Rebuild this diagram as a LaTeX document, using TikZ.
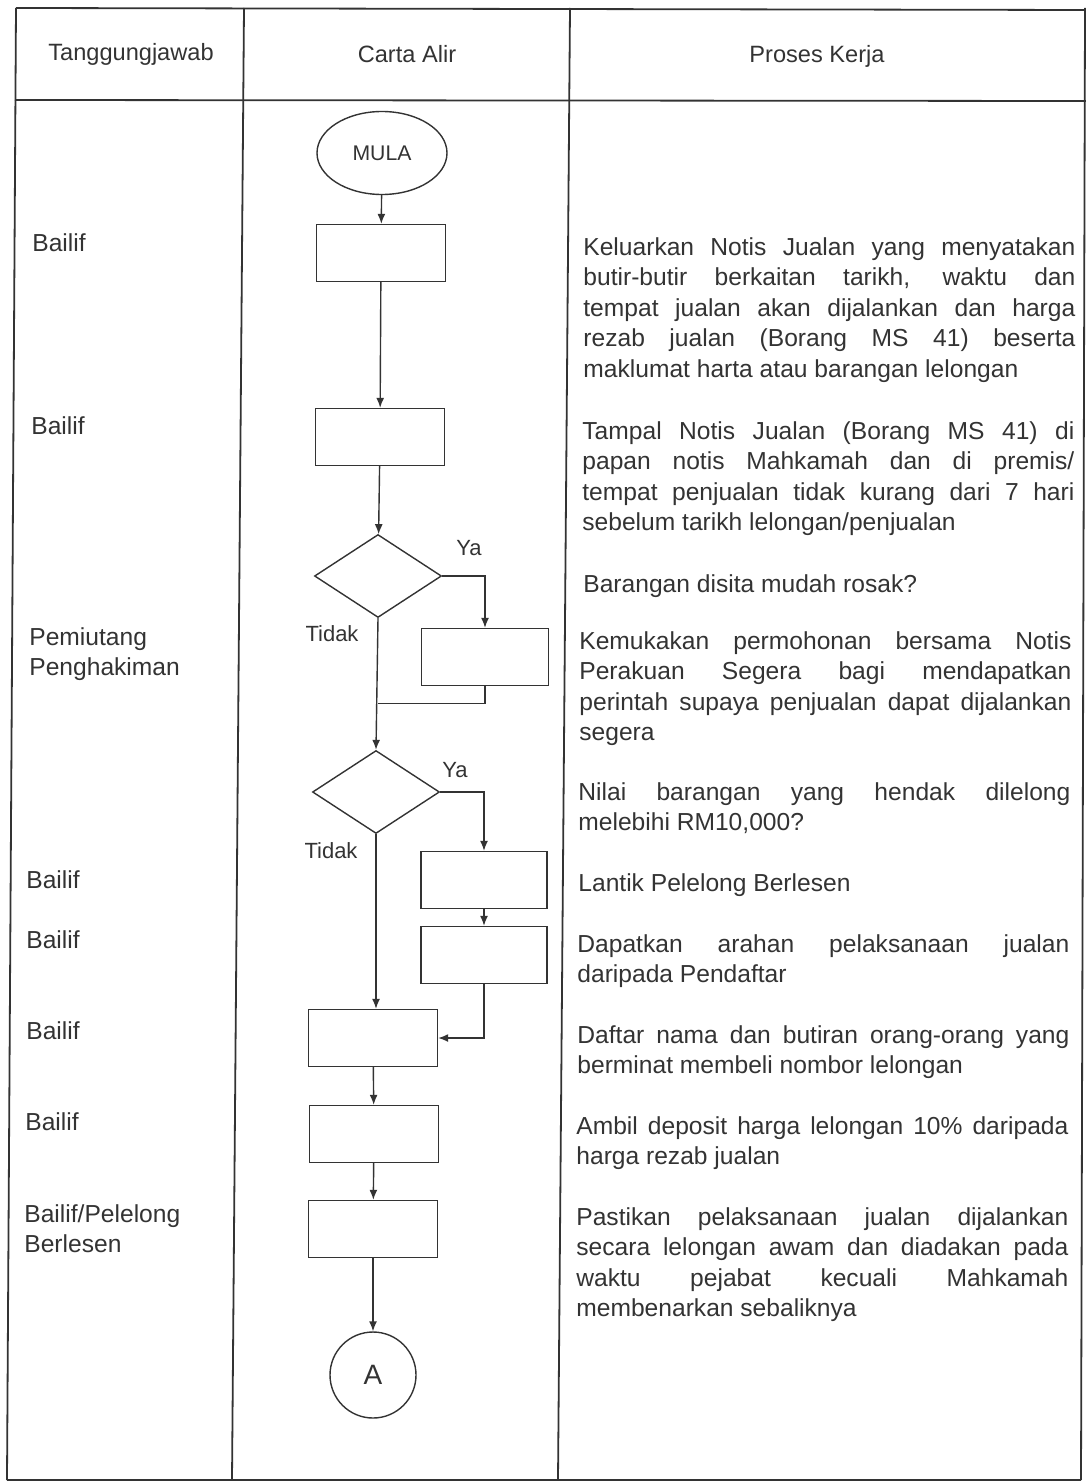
\documentclass[tikz,border=0pt]{standalone}
\usepackage{fontspec}
\setmainfont{Liberation Sans}
\usepackage{tikz}
\usetikzlibrary{shapes.geometric}
\usetikzlibrary{positioning}
\usetikzlibrary{arrows.meta}
\definecolor{tinte}{gray}{0.2}

\tikzset{
  kasten/.style={draw=tinte, line width=0.7pt, rectangle, minimum width=64.5pt, minimum height=28.5pt, inner sep=0pt},
  raute/.style={draw=tinte, line width=0.7pt, diamond, minimum width=63.5pt, minimum height=41.5pt, inner sep=0pt},
  anfang/.style={draw=tinte, line width=0.7pt, ellipse, minimum width=65pt, minimum height=41.5pt, inner sep=0pt, font=\fontsize{10.6}{12}\selectfont, text=tinte},
  verbinder/.style={draw=tinte, line width=0.7pt, circle, minimum size=43pt, inner sep=0pt, font=\fontsize{14}{16}\selectfont, text=tinte},
  pfeil/.style={->, draw=tinte, line width=0.7pt},
  linie/.style={draw=tinte, line width=0.7pt},
  tabelle/.style={draw=tinte, line width=0.9pt},
  zweig/.style={font=\fontsize{11}{13}\selectfont, text=tinte},
  kopf/.style={font=\fontsize{11.8}{14}\selectfont, text=tinte},
  wer/.style={anchor=north west, inner sep=0pt, align=left, font=\fontsize{12.3}{15.25}\selectfont, text=tinte},
  proz/.style={anchor=north west, inner sep=0pt, text width=246pt, align=justify, font=\fontsize{12.3}{15.25}\selectfont, text=tinte}
}

\begin{document}
\begin{tikzpicture}[x=0.5pt, y=-0.5pt, >={Latex[length=5pt,width=4pt]}]
\useasboundingbox (0,0) rectangle (1086,1482);

% Tabellenrahmen
\draw[tabelle] (16,8) -- (1086,10);
\draw[tabelle] (15,100) -- (1086,101);
\draw[tabelle] (7,1480) -- (1081,1480);
\foreach \xo/\xu in {16/7,244/232,570/558,1085/1081}
\draw[tabelle] (\xo,8) -- (\xu,1480);

% Kopfzeile
\node[kopf] (h1) at (131,54) {Tanggungjawab};
\node[kopf] (h2) at (407,54) {Carta Alir};
\node[kopf] (h3) at (817,56) {Proses Kerja};

% Carta Alir
\node[anfang] (mula) at (382,153) {MULA};
\node[kasten] (k1) at (381,253) {};
\node[kasten] (k2) at (380,437) {};
\node[raute] (r1) at (378,576) {};
\node[kasten, minimum width=63.5pt] (k3) at (485,657) {};
\node[raute] (r2) at (376,792) {};
\node[kasten, minimum width=63pt] (k4) at (484,880) {};
\node[kasten, minimum width=63pt] (k5) at (484,955) {};
\node[kasten] (k6) at (373,1038) {};
\node[kasten] (k7) at (374,1134) {};
\node[kasten] (k8) at (373,1229) {};
\node[verbinder] (ka) at (373,1375) {A};

% Ya / Tidak
\node[zweig] (ya1) at (469,548) {Ya};
\node[zweig] (tidak1) at (332,634) {Tidak};
\node[zweig] (ya2) at (455,770) {Ya};
\node[zweig] (tidak2) at (331,851) {Tidak};

% Pfeile
\draw[pfeil] (mula) -- (k1);
\draw[pfeil] (k1) -- (k2);
\draw[pfeil] (k2) -- (r1);
\draw[pfeil] (r1.east) -| (k3.north);
\coordinate (j1) at ([yshift=-8.5pt]r1.south |- k3.south);
\draw[linie] (k3.south) |- (j1);
\draw[pfeil] (r1.south) -- (r2.north);
\draw[pfeil] (r2.east) -| (k4.north);
\draw[pfeil] (k4) -- (k5);
\draw[pfeil] (k5.south) |- (k6.east);
\draw[pfeil] (r2.south) -- (r2.south |- k6.north);
\draw[pfeil] (k6) -- (k7);
\draw[pfeil] (k7) -- (k8);
\draw[pfeil] (k8) -- (ka);

% Tanggungjawab
\node[wer] (t1) at (32,233) {Bailif};
\node[wer] (t2) at (31,416) {Bailif};
\node[wer] (t3) at (29,627) {Pemiutang\\Penghakiman};
\node[wer] (t4) at (26,870) {Bailif};
\node[wer] (t5) at (26,930) {Bailif};
\node[wer] (t6) at (26,1021) {Bailif};
\node[wer] (t7) at (25,1112) {Bailif};
\node[wer] (t8) at (24,1204) {Bailif/Pelelong\\Berlesen};

% Proses Kerja
\node[proz] (p1) at (583,237) {Keluarkan Notis Jualan yang menyatakan\linebreak butir-butir berkaitan tarikh, waktu dan\linebreak tempat jualan akan dijalankan dan harga\linebreak rezab jualan (Borang MS 41) beserta\linebreak maklumat harta atau barangan lelongan};
\node[proz] (p2) at (582,421) {Tampal Notis Jualan (Borang MS 41) di\linebreak papan notis Mahkamah dan di premis/\linebreak tempat penjualan tidak kurang dari 7 hari\linebreak sebelum tarikh lelongan/penjualan};
\node[proz] (p3) at (583,574) {Barangan disita mudah rosak?};
\node[proz] (p4) at (579,631) {Kemukakan permohonan bersama Notis\linebreak Perakuan Segera bagi mendapatkan\linebreak perintah supaya penjualan dapat dijalankan\linebreak segera};
\node[proz] (p5) at (578,782) {Nilai barangan yang hendak dilelong\linebreak melebihi RM10,000?};
\node[proz] (p6) at (578,873) {Lantik Pelelong Berlesen};
\node[proz] (p7) at (577,934) {Dapatkan arahan pelaksanaan jualan\linebreak daripada Pendaftar};
\node[proz] (p8) at (577,1025) {Daftar nama dan butiran orang-orang yang\linebreak berminat membeli nombor lelongan};
\node[proz] (p9) at (576,1116) {Ambil deposit harga lelongan 10\% daripada\linebreak harga rezab jualan};
\node[proz] (p10) at (576,1207) {Pastikan pelaksanaan jualan dijalankan\linebreak secara lelongan awam dan diadakan pada\linebreak waktu pejabat kecuali Mahkamah\linebreak membenarkan sebaliknya};
\end{tikzpicture}
\end{document}
